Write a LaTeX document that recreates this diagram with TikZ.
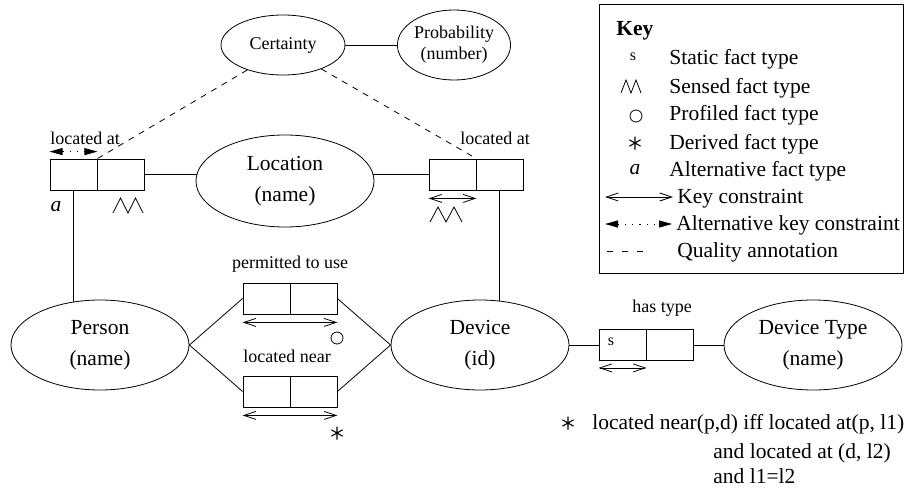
\documentclass[tikz,border=0pt]{standalone}
\usepackage{fontspec}
\setmainfont{Liberation Serif}
\usetikzlibrary{shapes.geometric,arrows.meta,backgrounds}
\begin{document}
\begin{tikzpicture}[x=1pt,y=-1pt,line width=0.8pt,
  ent/.style={draw, ellipse, fill=white, inner sep=0pt, align=center,
    minimum width=178pt, minimum height=90pt, font=\fontsize{21.5}{31}\selectfont},
  small ent/.style={ent, font=\fontsize{18}{21}\selectfont},
  cell/.style={draw, rectangle, minimum width=47pt, minimum height=31pt, inner sep=0pt, fill=white},
  lbl/.style={inner sep=0pt, font=\fontsize{18}{20}\selectfont},
  keyc/.style={{Straight Barb[length=12pt,width=8pt]}-{Straight Barb[length=12pt,width=8pt]}},
  altkey/.style={{Triangle[length=13pt,width=7pt]}-{Triangle[length=13pt,width=7pt]}, dash pattern=on 1.2pt off 6pt},
  qual/.style={dash pattern=on 6pt off 6pt},
  ktxt/.style={anchor=base west, inner sep=0pt, font=\fontsize{21.5}{24}\selectfont},
  sym/.style={inner sep=0pt, font=\fontsize{21.5}{24}\selectfont},
  zig/.style={line width=0.8pt},
  starmark/.pic={\draw[line width=1.1pt] (0,-6.5)--(0,6.5) (-5.6,-3.2)--(5.6,3.2) (-5.6,3.2)--(5.6,-3.2);},
]
\useasboundingbox (0,0) rectangle (905,495);

% entities
\node[small ent, minimum width=124pt, minimum height=60pt] (cert) at (283,45) {Certainty};
\node[small ent, minimum width=112pt, minimum height=70pt] (prob) at (454,45) {Probability\\(number)};
\node[ent, minimum height=92pt] (loc) at (285,181) {Location\\(name)};
\node[ent] (person) at (100,345) {Person\\(name)};
\node[ent] (device) at (480,345) {Device\\(id)};
\node[ent] (dtype) at (813,345) {Device Type\\(name)};

% fact types
\node[cell] (lat1a) at (73.5,174.5) {};
\node[cell] (lat1b) at (120.5,174.5) {};
\node[cell] (lat2a) at (452.5,174.5) {};
\node[cell] (lat2b) at (499.5,174.5) {};
\node[cell] (ptua) at (266.5,298.5) {};
\node[cell] (ptub) at (313.5,298.5) {};
\node[cell] (lna) at (266.5,391.5) {};
\node[cell] (lnb) at (313.5,391.5) {};
\node[cell] (hta) at (622.5,345) {};
\node[cell] (htb) at (669.5,345) {};

% labels
\node[lbl, anchor=west] (l1) at (50,138) {located at};
\node[lbl, anchor=west] (l2) at (460,138) {located at};
\node[lbl] (l3) at (290,264) {permitted to use};
\node[lbl, anchor=west] (l4) at (243,356) {located near};
\node[lbl] (l5) at (662,308) {has type};

% connectors
\begin{scope}[on background layer]
\draw (lat1a.south) -- (lat1a.south |- person.center);
\draw (lat1b.east) -- (lat1b.east -| loc.center);
\draw (lat2a.west) -- (lat2a.west -| loc.center);
\draw (lat2b.south) -- (lat2b.south |- device.center);
\draw (hta.west) -- (hta.west -| device.center);
\draw (htb.east) -- (htb.east -| dtype.center);
\draw (cert.center) -- (prob.center);
\end{scope}
\draw (person.east) -- (ptua.west);
\draw (person.east) -- (lna.west);
\draw (device.west) -- (ptub.east);
\draw (device.west) -- (lnb.east);
\draw[qual] (cert.215) -- (lat1a.north east);
\draw[qual] (cert.328) -- (lat2a.north east);

% constraints and markers
\draw[altkey] ([yshift=7pt]lat1a.north west) -- ([yshift=7pt]lat1a.north east);
\draw[keyc] ([yshift=-8pt]lat2a.south west) -- ([yshift=-8pt]lat2a.south east);
\draw[keyc] ([yshift=-8pt]ptua.south west) -- ([yshift=-8pt]ptub.south east);
\draw[keyc] ([yshift=-8pt]lna.south west) -- ([yshift=-8pt]lnb.south east);
\draw[keyc] ([yshift=-7pt]hta.south west) -- ([yshift=-7pt]hta.south east);
\draw[zig] (113,213) -- (120.5,198) -- (128,213) -- (135.5,198) -- (143,213);
\draw[zig] (430,222) -- (438,207) -- (446,222) -- (454,207) -- (462,222);
\node[sym, font=\itshape\fontsize{21.5}{24}\selectfont] (amark) at (56,207) {a};
\draw (337,338) circle (6pt);
\pic at (337,433) {starmark};
\node[sym, font=\fontsize{16}{18}\selectfont] (smark) at (611,342) {s};

% key
\node[draw, anchor=north west, minimum width=304pt, minimum height=269pt, inner sep=0pt] (keybox) at (599,4) {};
\node[ktxt, font=\bfseries\fontsize{21.5}{24}\selectfont] at (616,36) {Key};
\node[sym, font=\fontsize{16}{18}\selectfont] at (633,57) {s};
\draw[zig] (621,93) -- (626,80) -- (631,93) -- (636,80) -- (641,93);
\draw (636,116) circle (6pt);
\pic at (635,143) {starmark};
\node[sym, font=\itshape\fontsize{21.5}{24}\selectfont] at (635,170) {a};
\draw[keyc] (605,197) -- (673,197);
\draw[altkey] (605,224) -- (672,224);
\draw[dash pattern=on 6pt off 9pt] (607,251) -- (643,251);
\node[ktxt] at (669,65) {Static fact type};
\node[ktxt] at (669,93) {Sensed fact type};
\node[ktxt] at (669,121) {Profiled fact type};
\node[ktxt] at (669,149) {Derived fact type};
\node[ktxt] at (669,176) {Alternative fact type};
\node[ktxt] at (677,203) {Key constraint};
\node[ktxt] at (676,230) {Alternative key constraint};
\node[ktxt] at (677,257) {Quality annotation};

% footnote
\pic at (568,423) {starmark};
\node[ktxt] at (592,429) {located near(p,d) iff located at(p, l1)};
\node[ktxt] at (713,458) {and located at (d, l2)};
\node[ktxt] at (713,483) {and l1=l2};
\end{tikzpicture}
\end{document}
